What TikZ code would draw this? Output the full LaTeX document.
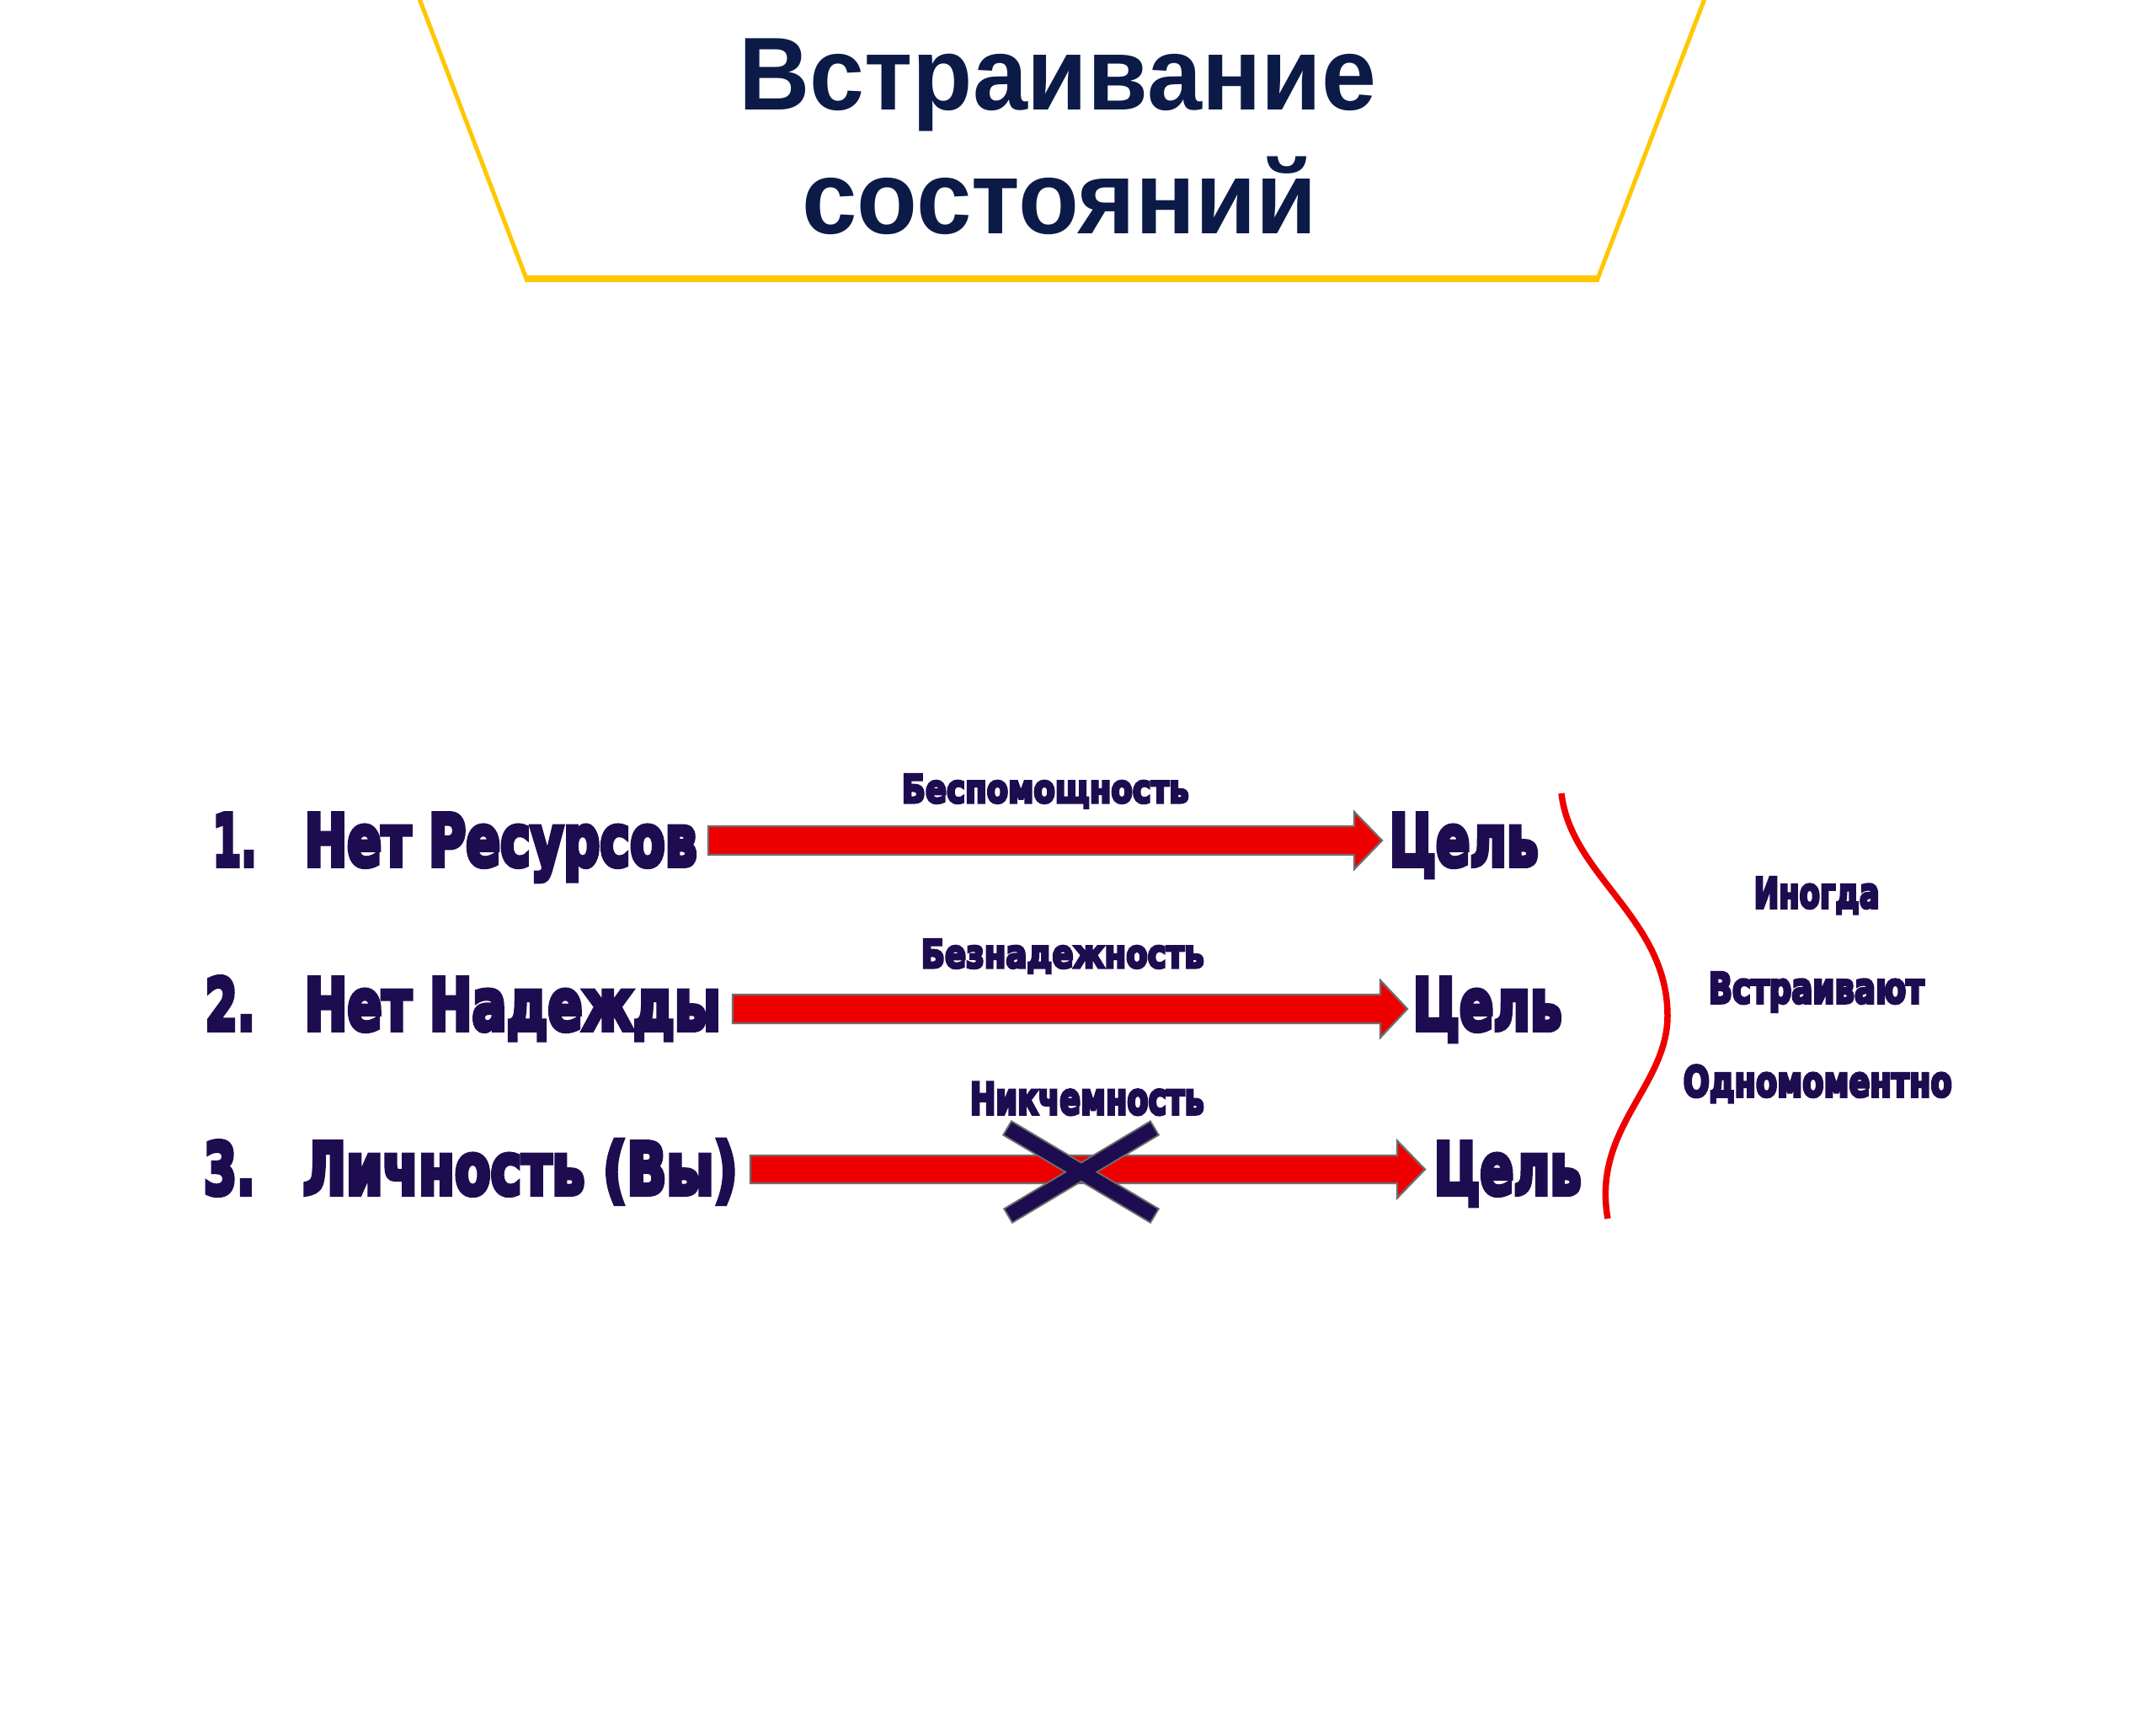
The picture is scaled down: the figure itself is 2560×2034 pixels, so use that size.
\documentclass[tikz,border=0pt]{standalone}
\usepackage{fontspec}
\usepackage{graphicx}
\usetikzlibrary{calc}
\newfontfamily\titlefont{Liberation Sans Bold}
\newfontfamily\heavyfont{DejaVu Sans Bold}[FakeBold=7]
\definecolor{titleblue}{RGB}{12,26,71}
\definecolor{inkpurple}{RGB}{30,12,80}
\definecolor{goldline}{RGB}{255,199,0}
\definecolor{arrowred}{RGB}{238,0,0}
\definecolor{edgegray}{RGB}{110,110,110}
\newcommand\fitto[2]{\resizebox{#1pt}{\height}{#2}}
\newcommand\redarrow[5]{\draw[arrowshape] ($(#1)+(0,-#4)$) -- ($(#2)+(-#3,-#4)$) -- ($(#2)+(-#3,-#5)$) -- (#2) -- ($(#2)+(-#3,#5)$) -- ($(#2)+(-#3,#4)$) -- ($(#1)+(0,#4)$) -- cycle;}
\tikzset{
  titletext/.style={inner sep=0pt, anchor=base west, text=titleblue, font=\titlefont\fontsize{123}{130}\selectfont},
  rowtext/.style={inner sep=0pt, anchor=base west, text=inkpurple, font=\heavyfont\fontsize{85}{90}\selectfont},
  labeltext/.style={inner sep=0pt, anchor=base west, text=inkpurple, font=\heavyfont\fontsize{46}{50}\selectfont},
  bigtext/.style={inner sep=0pt, anchor=base west, text=inkpurple, font=\heavyfont\fontsize{52}{56}\selectfont},
  sidetext/.style={inner sep=0pt, anchor=base west, text=inkpurple, font=\heavyfont\fontsize{50}{54}\selectfont},
  arrowshape/.style={fill=arrowred, draw=edgegray, line width=2.2pt, line join=miter},
  bracecurve/.style={draw=arrowred, line width=7.5pt},
  goldside/.style={draw=goldline, line width=5pt},
  goldbase/.style={draw=goldline, line width=8pt},
  crossedge/.style={draw=edgegray, line width=21pt, shorten <=-2pt, shorten >=-2pt},
  crossfill/.style={draw=inkpurple, line width=17pt},
}
\begin{document}
\begin{tikzpicture}[x=1pt,y=-1pt]
\useasboundingbox (0,0) rectangle (2560,2034);
\fill[white] (0,0) rectangle (2560,2034);

% title frame
\coordinate (fTL) at (497,-4);
\coordinate (fBL) at (625,331);
\coordinate (fBR) at (1897,331);
\coordinate (fTR) at (2025,-4);
\draw[goldside] (fTL) -- (fBL);
\draw[goldside] (fTR) -- (fBR);
\draw[goldbase] ($(fBL)+(-2,0)$) -- ($(fBR)+(2,0)$);

% title
\node[titletext] (title1) at (877,130) {\fitto{757}{Встраивание}};
\node[titletext] (title2) at (952,277) {\fitto{612}{состояний}};

% row 1
\node[rowtext] (num1) at (252.5,1028) {\fitto{52}{1.}};
\node[rowtext] (src1) at (361.5,1028) {\fitto{466}{Нет Ресурсов}};
\node[rowtext] (goal1) at (1649.5,1028) {\fitto{177}{Цель}};
\node[labeltext] (lab1) at (1070.5,953) {\fitto{341}{Беспомощность}};
\coordinate (a1s) at (841,998);
\coordinate (a1e) at (1641,998);
\redarrow{a1s}{a1e}{33}{17}{34}

% row 2
\node[rowtext] (num2) at (243.5,1223) {\fitto{59}{2.}};
\node[rowtext] (src2) at (361.5,1223) {\fitto{494}{Нет Надежды}};
\node[rowtext] (goal2) at (1677.5,1223) {\fitto{177}{Цель}};
\node[labeltext] (lab2) at (1093.5,1149) {\fitto{336}{Безнадежность}};
\coordinate (a2s) at (870,1198);
\coordinate (a2e) at (1671,1198);
\redarrow{a2s}{a2e}{32}{17}{34}

% row 3
\node[rowtext] (num3) at (241.5,1418) {\fitto{61}{3.}};
\node[rowtext] (src3) at (359.5,1418) {\fitto{516}{Личность (Вы)}};
\node[rowtext] (goal3) at (1702.5,1418) {\fitto{175}{Цель}};
\node[bigtext] (lab3) at (1151.5,1323) {\fitto{278}{Никчемность}};
\coordinate (a3s) at (891,1388.5);
\coordinate (a3e) at (1692,1388.5);
\redarrow{a3s}{a3e}{33}{16.5}{34}

% cross
\coordinate (xa1) at (1197,1340);
\coordinate (xa2) at (1370,1443);
\coordinate (xb1) at (1370,1340);
\coordinate (xb2) at (1198,1443);
\draw[crossedge] (xa1) -- (xa2);
\draw[crossedge] (xb1) -- (xb2);
\draw[crossfill] (xa1) -- (xa2);
\draw[crossfill] (xb1) -- (xb2);

% brace
\coordinate (br1) at (1854,942);
\coordinate (br2) at (1980,1206);
\coordinate (br3) at (1909,1447);
\draw[bracecurve] (br1) .. controls (1865,1040) and (1980,1090) .. (br2) .. controls (1980,1290) and (1890,1340) .. (br3);

% side texts
\node[sidetext] (side1) at (2082.5,1078) {\fitto{149}{Иногда}};
\node[sidetext] (side2) at (2028.5,1191) {\fitto{256}{Встраивают}};
\node[sidetext] (side3) at (1998.5,1302) {\fitto{319}{Одномоментно}};
\end{tikzpicture}
\end{document}
